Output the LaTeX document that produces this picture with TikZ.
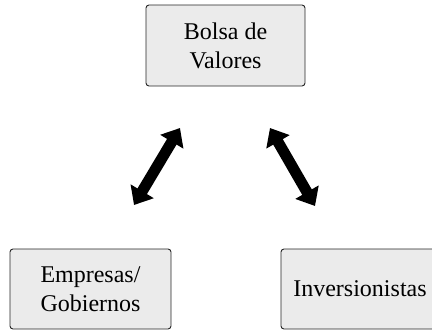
\documentclass[tikz,border=0pt]{standalone}
\usepackage{fontspec}
\setmainfont{Liberation Serif}
\usetikzlibrary{arrows.meta}

\begin{document}
\begin{tikzpicture}[x=1pt,y=1pt,
  caja/.style={draw=black!85, line width=0.9pt, rounded corners=3pt, fill=black!8,
    align=center, font=\fontsize{24}{29}\selectfont, inner sep=0pt},
  flecha/.style={line width=11pt, {Triangle[width=26pt,length=16pt]}-{Triangle[width=26pt,length=16pt]}}]
\useasboundingbox (0,0) rectangle (432,-330);
		\node[caja, minimum width=159pt, minimum height=81pt] (bolsa) at (225.5,-45.5) {Bolsa de\\Valores};
\node[caja, minimum width=161pt, minimum height=80pt] (empresas) at (90.5,-289) {Empresas/\\Gobiernos};
\node[caja, minimum width=158pt, minimum height=80pt] (inversionistas) at (360,-289) {Inversionistas};
	\coordinate (bi) at (180,-128);
	\coordinate (ei) at (134,-205);
	\coordinate (bd) at (270,-128);
	\coordinate (ed) at (315,-206);
		\draw[flecha] (bi) -- (ei);
		\draw[flecha] (bd) -- (ed);
		\end{tikzpicture}
\end{document}
